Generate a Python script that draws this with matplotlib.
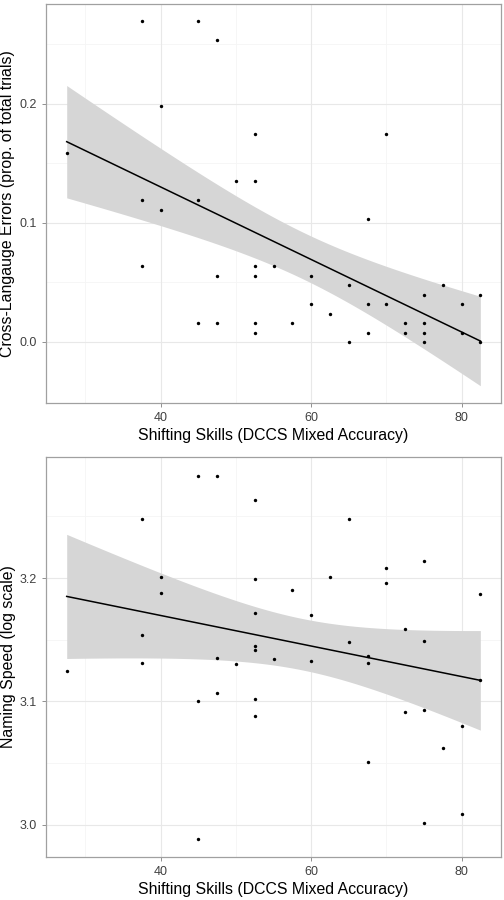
import matplotlib
matplotlib.use("Agg")
import matplotlib.pyplot as plt
import numpy as np

plt.rcParams['font.family'] = ['Liberation Sans', 'DejaVu Sans']

# Panel 1: cross-language errors
x_err = [27.5, 37.5, 45, 47.5, 40, 52.5, 70, 50, 52.5, 37.5, 45, 40, 67.5,
         37.5, 52.5, 55, 47.5, 52.5, 60, 65, 77.5, 75, 82.5, 60, 67.5, 70, 80,
         62.5, 45, 47.5, 52.5, 57.5, 72.5, 75, 52.5, 67.5, 72.5, 75, 80,
         65, 75, 82.5]
y_err = [0.159, 0.270, 0.270, 0.254, 0.198, 0.175, 0.175, 0.135, 0.135, 0.119, 0.119, 0.111, 0.103,
         0.0635, 0.0635, 0.0635, 0.0556, 0.0556, 0.0556, 0.0476, 0.0476, 0.0397, 0.0397, 0.0317, 0.0317, 0.0317, 0.0317,
         0.0238, 0.0159, 0.0159, 0.0159, 0.0159, 0.0159, 0.0159, 0.0079, 0.0079, 0.0079, 0.0079, 0.0079,
         0.0, 0.0, 0.0]

# Panel 2: naming speed (log)
x_spd = [45, 47.5, 52.5, 37.5, 65, 75, 70, 40, 62.5, 52.5, 70, 57.5, 40, 82.5,
         52.5, 60, 72.5, 37.5, 65, 75, 52.5, 52.5, 47.5, 55, 67.5, 60, 67.5,
         37.5, 50, 27.5, 82.5, 47.5, 45, 52.5, 72.5, 75, 52.5, 80, 77.5, 67.5,
         80, 75, 45]
y_spd = [3.283, 3.283, 3.263, 3.248, 3.248, 3.214, 3.208, 3.201, 3.201, 3.199, 3.196, 3.190, 3.188, 3.187,
         3.172, 3.170, 3.159, 3.154, 3.148, 3.149, 3.145, 3.142, 3.135, 3.134, 3.137, 3.133, 3.131,
         3.131, 3.130, 3.125, 3.117, 3.107, 3.100, 3.102, 3.091, 3.093, 3.088, 3.080, 3.062, 3.051,
         3.009, 3.001, 2.988]


def lm_band(x, y, xs, t=2.02):
    x = np.asarray(x, float)
    y = np.asarray(y, float)
    n = len(x)
    b, a = np.polyfit(x, y, 1)
    res = y - (a + b * x)
    s = np.sqrt(np.sum(res ** 2) / (n - 2))
    sxx = np.sum((x - x.mean()) ** 2)
    fit = a + b * xs
    se = s * np.sqrt(1.0 / n + (xs - x.mean()) ** 2 / sxx)
    return fit, fit - t * se, fit + t * se


def panel(ax, x, y, ylab, yticks, yminor, ylim):
    xs = np.linspace(min(x), max(x), 80)
    fit, lo, hi = lm_band(x, y, xs)
    ax.set_facecolor('white')
    for v in [30, 50, 70]:
        ax.axvline(v, color='#F5F5F5', lw=0.6, zorder=0)
    for v in yminor:
        ax.axhline(v, color='#F5F5F5', lw=0.6, zorder=0)
    for v in [40, 60, 80]:
        ax.axvline(v, color='#E8E8E8', lw=0.8, zorder=0)
    for v in yticks:
        ax.axhline(v, color='#E8E8E8', lw=0.8, zorder=0)
    ax.fill_between(xs, lo, hi, color='#D6D6D6', lw=0, zorder=1)
    ax.plot(xs, fit, color='black', lw=1.1, zorder=2)
    ax.scatter(x, y, s=6, color='black', lw=0, zorder=3)
    ax.set_xlim(24.75, 85.25)
    ax.set_ylim(*ylim)
    ax.set_xticks([40, 60, 80])
    ax.set_yticks(yticks)
    ax.set_yticklabels(['%.1f' % v for v in yticks])
    ax.tick_params(colors='#7F7F7F', labelcolor='#404040', labelsize=9, length=3, width=0.6)
    for sp in ax.spines.values():
        sp.set_color('#A0A0A0')
        sp.set_linewidth(0.9)
    ax.set_xlabel('Shifting Skills (DCCS Mixed Accuracy)', fontsize=11.4, labelpad=3)
    ax.set_ylabel(ylab, fontsize=11.4, labelpad=3)


fig = plt.figure(figsize=(5.04, 9.0), dpi=100)
ax1 = fig.add_axes([0.0913, 0.5526, 0.9028, 0.4430])
ax2 = fig.add_axes([0.0913, 0.0481, 0.9028, 0.4438])

panel(ax1, x_err, y_err, 'Cross-Langauge Errors (prop. of total trials)',
      [0.0, 0.1, 0.2], [0.05, 0.15, 0.25], (-0.051, 0.284))
panel(ax2, x_spd, y_spd, 'Naming Speed (log scale)',
      [3.0, 3.1, 3.2], [3.05, 3.15, 3.25], (2.974, 3.298))

fig.savefig('out.png', dpi=100)
